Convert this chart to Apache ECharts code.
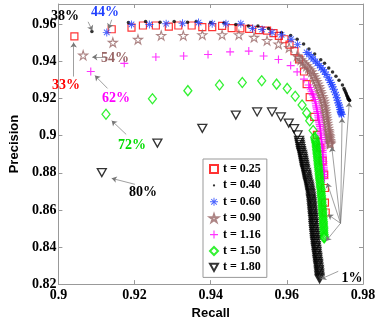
<!DOCTYPE html>
<html>
<head>
<meta charset="utf-8">
<script src="https://cdn.jsdelivr.net/npm/echarts@6/dist/echarts.min.js"></script>
<style>
  html, body { margin: 0; padding: 0; background: #fff; }
  #chart { width: 380px; height: 325px; }
</style>
</head>
<body>
<div id="chart"></div>
<script>
// values: [recall, precision], one point per percentage step
const t025 = [[0.9042,0.9535],[0.914,0.9574],[0.9192,0.9583],[0.9222,0.9594],[0.9256,0.9594],[0.929,0.9588],[0.9315,0.9594],[0.935,0.9594],[0.9378,0.9585],[0.9404,0.9585],[0.943,0.9592],[0.9455,0.958],[0.9478,0.9579],[0.9501,0.9576],[0.9527,0.9569],[0.9548,0.9567],[0.9565,0.9553],[0.9579,0.9538],[0.9594,0.952],[0.9607,0.9491],[0.962,0.9456],[0.9632,0.9411],[0.9645,0.9346],[0.9652,0.9278],[0.966,0.9208],[0.9672,0.9102],[0.9679,0.9005],[0.9688,0.8935],[0.9694,0.8865],[0.9698,0.879],[0.97,0.8718],[0.97,0.8639],[0.9702,0.8586]];
const t040 = [[0.9088,0.9562],[0.9184,0.961],[0.9229,0.9615],[0.9267,0.9611],[0.9304,0.9615],[0.9339,0.9611],[0.9362,0.9615],[0.94,0.961],[0.9435,0.9608],[0.9466,0.96],[0.9499,0.9591],[0.9524,0.9591],[0.9552,0.9578],[0.9586,0.9555],[0.961,0.954],[0.9627,0.952],[0.9644,0.9494],[0.9658,0.9468],[0.9673,0.944],[0.9689,0.941],[0.9699,0.9391],[0.971,0.9365],[0.972,0.9344],[0.9729,0.932],[0.9737,0.9299],[0.9746,0.9273],[0.975,0.9255],[0.9752,0.9245],[0.9754,0.9236],[0.9756,0.9228],[0.9757,0.922],[0.9759,0.9213],[0.976,0.9206],[0.9761,0.92],[0.9762,0.9197],[0.9763,0.9194],[0.9764,0.9192],[0.9765,0.919]];
const t060 = [[0.9127,0.9557],[0.9192,0.96],[0.9239,0.96],[0.9283,0.9604],[0.9326,0.9606],[0.9368,0.961],[0.9404,0.9604],[0.944,0.9604],[0.9479,0.9604],[0.951,0.9578],[0.9535,0.9573],[0.9561,0.9557],[0.9586,0.9544],[0.9611,0.952],[0.9628,0.9491],[0.9652,0.9449],
  [0.9658,0.9438],[0.9664,0.9425],[0.9669,0.9414],[0.9675,0.9401],[0.968,0.939],[0.9686,0.9378],[0.969,0.9366],[0.9695,0.9355],[0.9699,0.9344],[0.9703,0.933],[0.9708,0.9315],[0.9712,0.9299],[0.9715,0.9287],[0.9718,0.9275],[0.972,0.9264],[0.9723,0.925],[0.9726,0.9235],[0.9729,0.922],[0.9731,0.9205],[0.9733,0.9191],[0.9735,0.9176],[0.9737,0.9165],[0.9739,0.9153],[0.974,0.9141],[0.9741,0.9132],[0.9742,0.9125],[0.9743,0.9119],[0.9744,0.9114]];
const t090 = [[0.9065,0.9434],[0.9143,0.9503],[0.9209,0.9519],[0.927,0.954],[0.9328,0.954],[0.9378,0.9544],[0.943,0.9544],[0.9474,0.9544],[0.9514,0.953],[0.9548,0.9513],[0.9578,0.9494],[0.9606,0.9475],[0.9627,0.9431],
  [0.9632,0.942],[0.9637,0.9409],[0.9642,0.9398],[0.9647,0.9387],[0.9652,0.9376],[0.9657,0.9365],[0.9661,0.9355],[0.9665,0.9344],[0.9669,0.933],[0.9672,0.9317],[0.9675,0.9304],[0.9678,0.9291],[0.9681,0.9278],[0.9684,0.9264],[0.9686,0.9251],[0.9688,0.9238],[0.969,0.9225],[0.9693,0.9211],[0.9695,0.9198],[0.9697,0.9185],[0.9698,0.9172],[0.9699,0.9158],[0.97,0.9145],[0.9701,0.9132],[0.9702,0.9119],[0.9703,0.9106],[0.9704,0.9093],[0.9705,0.908],[0.9706,0.9067],[0.9707,0.9053],[0.9708,0.904],[0.9709,0.9027],[0.971,0.9018],[0.971,0.9009],[0.9711,0.9],[0.9712,0.8992],[0.9712,0.8983],[0.9713,0.8974],[0.9713,0.8965],[0.9714,0.896],[0.9714,0.8955]];
const t116 = [[0.9085,0.9346],[0.9173,0.939],[0.9256,0.9424],[0.9329,0.943],[0.9393,0.9438],[0.9451,0.9452],[0.95,0.9456],[0.9539,0.943],[0.9578,0.9411],[0.961,0.9378],[0.9627,0.9344],[0.9645,0.9305],[0.9657,0.9273],
  [0.966,0.926],[0.9663,0.9248],[0.9665,0.9237],[0.9667,0.9226],[0.9669,0.922],[0.9671,0.9207],[0.9673,0.9195],[0.9675,0.9183],[0.9676,0.9172],[0.9677,0.9161],[0.9678,0.915],[0.9679,0.914],[0.968,0.913],[0.9681,0.912],[0.9682,0.911],[0.9683,0.91],[0.9684,0.909],[0.9684,0.908],[0.9685,0.907],[0.9686,0.906],[0.9687,0.905],[0.9688,0.904],[0.9688,0.903],[0.9689,0.902],[0.9689,0.901],[0.969,0.9],[0.969,0.899],[0.9691,0.898],[0.9691,0.897],[0.9692,0.896],[0.9692,0.895],[0.9693,0.894],[0.9693,0.893],[0.9694,0.892],[0.9694,0.891],[0.9694,0.89],[0.9695,0.889],[0.9695,0.888],[0.9695,0.887],[0.9696,0.886],[0.9696,0.885],[0.9696,0.884],[0.9697,0.883],[0.9697,0.882],[0.9697,0.881],[0.9698,0.88],[0.9698,0.879],[0.9698,0.878],[0.9699,0.8768]];
const t150 = [[0.9125,0.9116],[0.9247,0.9199],[0.934,0.9243],[0.9423,0.9273],[0.9483,0.9287],[0.9534,0.9296],[0.9573,0.9278],[0.9601,0.9255],[0.9622,0.9213],[0.964,0.9166],[0.9652,0.9123],[0.966,0.9081],[0.9669,0.9028],[0.9673,0.8992],
  [0.9674,0.8982],[0.9675,0.8973],[0.9676,0.8964],[0.9677,0.8955],[0.9677,0.8945],[0.9678,0.8936],[0.9678,0.8926],[0.9679,0.8917],[0.9679,0.8907],[0.968,0.8898],[0.968,0.8888],[0.9681,0.8878],[0.9681,0.8868],[0.9682,0.8858],[0.9682,0.8848],[0.9683,0.8838],[0.9683,0.8828],[0.9684,0.8818],[0.9684,0.8808],[0.9685,0.8798],[0.9685,0.8788],[0.9686,0.8778],[0.9686,0.8768],[0.9687,0.8758],[0.9687,0.8748],[0.9688,0.8738],[0.9688,0.8728],[0.9689,0.8718],[0.969,0.8708],[0.969,0.8698],[0.969,0.8688],[0.9691,0.8678],[0.9691,0.8668],[0.9692,0.8658],[0.9692,0.8648],[0.9692,0.8638],[0.9693,0.8628],[0.9693,0.8618],[0.9693,0.8608],[0.9694,0.8598],[0.9694,0.8588],[0.9694,0.8578],[0.9695,0.8568],[0.9695,0.8558],[0.9695,0.8548],[0.9696,0.8538],[0.9696,0.8528],[0.9696,0.8518],[0.9697,0.8508],[0.9697,0.8498],[0.9697,0.8488],[0.9697,0.8478],[0.9698,0.8468],[0.9698,0.8458],[0.9698,0.8453],[0.9698,0.8448]];
const t180 = [[0.9114,0.8801],[0.926,0.896],[0.9378,0.904],[0.9466,0.9111],[0.9522,0.9128],[0.9561,0.9128],[0.9584,0.9101],[0.9605,0.9068],[0.9619,0.9038],[0.9628,0.9004],[0.9632,0.8975],
  [0.9633,0.8964],[0.9634,0.8953],[0.9635,0.8942],[0.9636,0.8931],[0.9637,0.892],[0.9638,0.891],[0.964,0.8899],[0.9641,0.8888],[0.9642,0.8878],[0.9643,0.8867],[0.9644,0.8856],[0.9645,0.8846],[0.9646,0.8835],[0.9647,0.8824],[0.9648,0.8814],[0.965,0.8803],[0.9651,0.8792],[0.9652,0.8782],[0.9653,0.8771],[0.9654,0.876],[0.9655,0.875],[0.9657,0.8739],[0.9658,0.8728],[0.9659,0.8718],[0.966,0.8707],[0.9661,0.8696],[0.9662,0.8686],[0.9663,0.8675],[0.9663,0.8664],[0.9664,0.8654],[0.9665,0.8643],[0.9665,0.8632],[0.9666,0.8622],[0.9666,0.8611],[0.9667,0.86],[0.9667,0.859],[0.9668,0.8579],[0.9668,0.8568],[0.9669,0.8558],[0.9669,0.8547],[0.967,0.8536],[0.967,0.8526],[0.967,0.8515],[0.9671,0.8504],[0.9671,0.8494],[0.9672,0.8483],[0.9672,0.8472],[0.9673,0.8462],[0.9673,0.8451],[0.9674,0.844],[0.9674,0.843],[0.9675,0.8419],[0.9676,0.8408],[0.9676,0.8398],[0.9677,0.8387],[0.9678,0.8376],[0.9678,0.8366],[0.9679,0.8355],[0.968,0.8344],[0.968,0.8334],[0.9681,0.8323],[0.9682,0.8312],[0.9682,0.8302],[0.9683,0.8291],[0.9684,0.828],[0.9684,0.827],[0.9685,0.8259],[0.9685,0.8248],[0.9686,0.8238],[0.9686,0.8228]];
const seriesNames = ['t = 0.25', 't = 0.40', 't = 0.60', 't = 0.90', 't = 1.16', 't = 1.50', 't = 1.80'];

// annotation arrows: [from, to] in data space
const arrows = [
  [[0.9078,0.9614],[0.9089,0.9567]],
  [[0.914,0.9625],[0.9132,0.9577]],
  [[0.904,0.9319],[0.904,0.9503]],
  [[0.9129,0.9424],[0.9089,0.9424]],
  [[0.9129,0.9255],[0.9096,0.9324]],
  [[0.9178,0.9007],[0.914,0.9081]],
  [[0.9201,0.8738],[0.914,0.877]],
  [[0.9741,0.8528],[0.9764,0.918]],
  [[0.9741,0.8528],[0.9745,0.9095]],
  [[0.9741,0.8528],[0.9718,0.8939]],
  [[0.9741,0.8528],[0.9706,0.8745]],
  [[0.9741,0.8528],[0.9708,0.8575]],
  [[0.9741,0.8528],[0.9703,0.8432]],
  [[0.9735,0.8269],[0.969,0.8228]]
];

const serif = '"Liberation Serif", "DejaVu Serif", serif';
const sans = '"Liberation Sans", Arial, sans-serif';

const asterisk = 'path://M0,4.4L10,4.4L10,5.6L0,5.6ZM4.4,0L5.6,0L5.6,10L4.4,10ZM1.92,1.08L8.92,8.08L8.08,8.92L1.08,1.92ZM8.92,1.92L1.92,8.92L1.08,8.08L8.08,1.08Z';
const plus = 'path://M0,4.3L10,4.3L10,5.7L0,5.7ZM4.3,0L5.7,0L5.7,10L4.3,10Z';
const pentagram = 'path://M5,0L6.123,3.455L9.755,3.455L6.816,5.59L7.939,9.045L5,6.91L2.061,9.045L3.184,5.59L0.245,3.455L3.877,3.455Z';
const triDown = 'path://M0,0L10,0L5,9Z';
const dotIcon = 'path://M0,0M10,10M3.6,5a1.4,1.4 0 1,0 2.8,0a1.4,1.4 0 1,0 -2.8,0Z';

function hollow(color, w) {
  return { color: 'rgba(0,0,0,0)', borderColor: color, borderWidth: w || 1.2 };
}

const labels = [
  { text: '38%', x: 65, y: 16, color: '#000' },
  { text: '44%', x: 105, y: 12, color: '#1f3fff' },
  { text: '33%', x: 66, y: 85, color: '#ff0000' },
  { text: '54%', x: 115, y: 58, color: '#996666' },
  { text: '62%', x: 116, y: 98, color: '#ff00ff' },
  { text: '72%', x: 132, y: 145, color: '#00dd00' },
  { text: '80%', x: 143, y: 192, color: '#000' },
  { text: '1%', x: 352, y: 278, color: '#000' }
];

const chart = echarts.init(document.getElementById('chart'));

chart.setOption({
  animation: false,
  grid: { left: 49, right: 17, top: 4, bottom: 35 },
  xAxis: [{
    type: 'value', min: 0.9, max: 0.98, interval: 0.02,
    name: 'Recall', nameLocation: 'middle', nameGap: 14,
    nameTextStyle: { fontFamily: sans, fontWeight: 'bold', fontSize: 13, color: '#000' },
    axisLine: { lineStyle: { color: '#999' } },
    axisTick: { inside: true, length: 4, lineStyle: { color: '#999' } },
    axisLabel: { fontFamily: serif, fontWeight: 'bold', fontSize: 14, color: '#000', margin: 4 },
    splitLine: { show: false }
  }, {
    type: 'value', position: 'top', min: 0.9, max: 0.98, interval: 0.02,
    axisLine: { show: true, lineStyle: { color: '#999' } },
    axisTick: { inside: true, length: 4, lineStyle: { color: '#999' } },
    axisLabel: { show: false }, splitLine: { show: false }
  }],
  yAxis: [{
    type: 'value', min: 0.82, max: 0.971, interval: 0.02,
    name: 'Precision', nameLocation: 'middle', nameGap: 34,
    nameTextStyle: { fontFamily: sans, fontWeight: 'bold', fontSize: 13, color: '#000' },
    axisLine: { show: true, lineStyle: { color: '#999' } },
    axisTick: { inside: true, length: 4, lineStyle: { color: '#999' } },
    axisLabel: { fontFamily: serif, fontWeight: 'bold', fontSize: 14, color: '#000', margin: 2, showMaxLabel: false },
    splitLine: { show: false }
  }, {
    type: 'value', position: 'right', min: 0.82, max: 0.971, interval: 0.02,
    axisLine: { show: true, lineStyle: { color: '#999' } },
    axisTick: { inside: true, length: 4, lineStyle: { color: '#999' } },
    axisLabel: { show: false }, splitLine: { show: false }
  }],
  legend: {
    data: [
      { name: seriesNames[0] },
      { name: seriesNames[1], icon: dotIcon },
      { name: seriesNames[2] },
      { name: seriesNames[3] },
      { name: seriesNames[4] },
      { name: seriesNames[5] },
      { name: seriesNames[6], icon: triDown }
    ],
    orient: 'vertical', left: 203, top: 159,
    itemWidth: 8, itemHeight: 8, itemGap: 4.4,
    padding: [4, 6, 4, 6],
    borderColor: '#999', borderWidth: 1, backgroundColor: '#fff',
    textStyle: { fontFamily: serif, fontWeight: 'bold', fontSize: 12, color: '#000' }
  },
  graphic: labels.map(l => ({
    type: 'text', x: l.x, y: l.y, z: 100,
    style: { text: l.text, fill: l.color, font: 'bold 14px ' + serif, textAlign: 'center', textVerticalAlign: 'middle' }
  })),
  series: [
    { name: seriesNames[0], type: 'scatter', data: t025, symbol: 'rect', symbolSize: 7, itemStyle: hollow('#ff0000', 1.2) },
    { name: seriesNames[1], type: 'scatter', data: t040, symbol: 'circle', symbolSize: 3.5, itemStyle: { color: '#000' } },
    { name: seriesNames[2], type: 'scatter', data: t060, symbol: asterisk, symbolSize: 8, itemStyle: { color: '#1f3fff' } },
    { name: seriesNames[3], type: 'scatter', data: t090, symbol: pentagram, symbolSize: 9, itemStyle: hollow('#996666', 1.1) },
    { name: seriesNames[4], type: 'scatter', data: t116, symbol: plus, symbolSize: 8, itemStyle: { color: '#ff00ff' } },
    { name: seriesNames[5], type: 'scatter', data: t150, symbol: 'diamond', symbolSize: [8, 10], itemStyle: hollow('#00ee00', 1.3) },
    { name: seriesNames[6], type: 'scatter', data: t180, symbol: triDown, symbolSize: [9, 8], itemStyle: hollow('#000', 1.3) },
    {
      type: 'scatter', data: [], silent: true,
      markLine: {
        silent: true, symbol: ['none', 'arrow'], symbolSize: 5,
        label: { show: false },
        lineStyle: { color: '#777', width: 0.7, type: 'solid' },
        data: arrows.map(a => [{ coord: a[0] }, { coord: a[1] }])
      }
    }
  ]
});
</script>
</body>
</html>
